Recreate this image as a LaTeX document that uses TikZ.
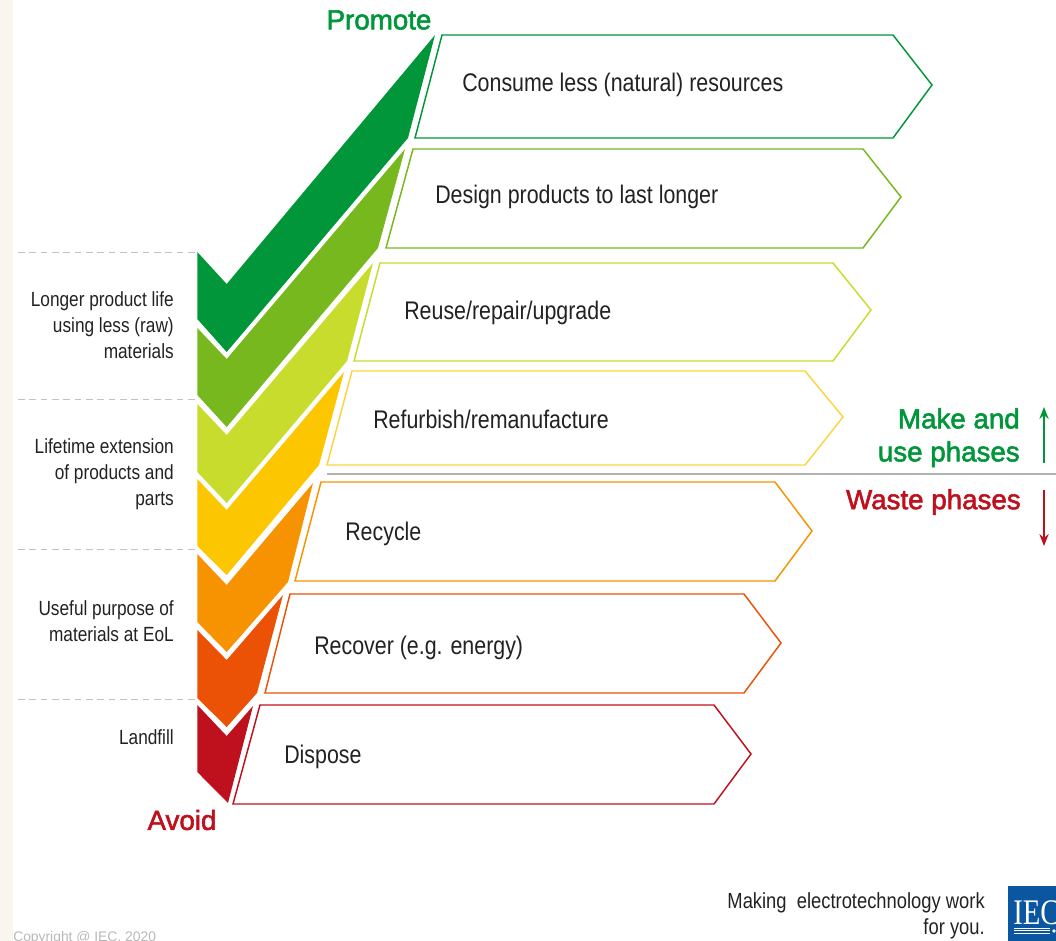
\documentclass[tikz,border=0pt]{standalone}
\usepackage{fontspec}
\setmainfont{Liberation Sans}
\newfontfamily\narrowfont[FakeStretch=0.84]{Liberation Sans}
\newfontfamily\headfont[FakeBold=2]{Liberation Sans}
\newfontfamily\logofont[FakeStretch=0.8]{Liberation Serif}
\usetikzlibrary{arrows.meta}
\definecolor{cDkGreen}{HTML}{009639}
\definecolor{cGreen}{HTML}{76B81D}
\definecolor{cLime}{HTML}{C8DC2D}
\definecolor{cAmber}{HTML}{FCC600}
\definecolor{cOrange}{HTML}{F79300}
\definecolor{cRedOrange}{HTML}{EC5205}
\definecolor{cRed}{HTML}{BE111D}
\definecolor{cStrip}{HTML}{F9F6EE}
\definecolor{cBlue}{HTML}{0B56A0}
\definecolor{cText}{HTML}{222222}
\tikzset{
  x=0.75pt,y=-0.75pt,
  stepbar/.style={draw=#1,line width=1.1pt,line join=miter,fill=white},
  chev/.style={fill=#1,draw=none},
  steplabel/.style={anchor=base west,inner sep=0pt,text=cText,font=\narrowfont\fontsize{19.1}{23}\selectfont},
  sidelabel/.style={anchor=north east,inner sep=0pt,align=right,text=cText,font=\narrowfont\fontsize{15.4}{19.5}\selectfont},
  sep/.style={draw=black!24,line width=0.7pt,dash pattern=on 5pt off 3.5pt},
  heading/.style={inner sep=0pt,text=#1,font=\headfont\fontsize{20.8}{24.75}\selectfont},
  phase/.style={draw=#1,line width=1pt,-{Stealth[length=9pt,width=7pt]}},
}
\begin{document}
\begin{tikzpicture}
\useasboundingbox (0,0) rectangle (1056,941);
\clip (0,0) rectangle (1056,941);
\fill[cStrip] (0,0) rectangle (13,941);
% dashed separators
\foreach \yy in {252,399,549,699}{\draw[sep] (18,\yy) -- (197,\yy);}
% chevrons
\fill[chev=cDkGreen] (197.3,252) -- (226.7,284) -- (435,35) -- (408,138) -- (226.7,352) -- (197.3,319) -- cycle;
\fill[chev=cGreen] (197.3,328) -- (226.7,359) -- (405,149) -- (378,248) -- (226.7,427) -- (197.3,395) -- cycle;
\fill[chev=cLime] (197.3,404) -- (226.7,435) -- (373,263) -- (347,361) -- (226.7,503) -- (197.3,472) -- cycle;
\fill[chev=cAmber] (197.3,479) -- (226.7,510) -- (344,372) -- (319,465) -- (226.7,575) -- (197.3,546) -- cycle;
\fill[chev=cOrange] (197.3,554) -- (226.7,585) -- (313,483) -- (288,582) -- (226.7,652) -- (197.3,622) -- cycle;
\fill[chev=cRedOrange] (197.3,630) -- (226.7,660) -- (283,595) -- (257,693) -- (226.7,727) -- (197.3,698) -- cycle;
\fill[chev=cRed] (197.3,705) -- (226.7,736) -- (253,706) -- (228,803) -- (197.3,772) -- cycle;
% step bars
\draw[stepbar=cDkGreen] (442,35) -- (893,35) -- (932,85) -- (893,138) -- (415,138) -- cycle;
\draw[stepbar=cGreen] (413,149) -- (863,149) -- (901,197) -- (863,248) -- (386,248) -- cycle;
\draw[stepbar=cLime] (380,263) -- (833,263) -- (871,310) -- (833,361) -- (354,361) -- cycle;
\draw[stepbar=cAmber!75!white] (352,371) -- (805,371) -- (843,417) -- (805,465) -- (327,465) -- cycle;
\draw[stepbar=cOrange] (321,482) -- (775,482) -- (812,531) -- (775,581) -- (295,581) -- cycle;
\draw[stepbar=cRedOrange] (290,594) -- (744,594) -- (781,643) -- (744,693) -- (265,693) -- cycle;
\draw[stepbar=cRed] (260,705) -- (714,705) -- (751,754) -- (714,804) -- (233,804) -- cycle;
% step labels
\node[steplabel] (s1) at (462,92) {Consume less (natural) resources};
\node[steplabel] (s2) at (435,204) {Design products to last longer};
\node[steplabel] (s3) at (404,320) {Reuse/repair/upgrade};
\node[steplabel] (s4) at (373,428) {Refurbish/remanufacture};
\node[steplabel] (s5) at (345,540) {Recycle};
\node[steplabel] (s6) at (314,654.5) {Recover (e.g. energy)};
\node[steplabel] (s7) at (284,763.5) {Dispose};
% side labels
\node[sidelabel] (l1) at (174,291) {Longer product life\\using less (raw)\\materials};
\node[sidelabel] (l2) at (174,438) {Lifetime extension\\of products and\\parts};
\node[sidelabel] (l3) at (174,600) {Useful purpose of\\materials at EoL};
\node[sidelabel] (l4) at (174,729) {Landfill};
% headings
\node[heading=cDkGreen] (promote) at (379,20) {Promote};
\node[heading=cRed] (avoid) at (182,820) {Avoid};
\node[heading=cDkGreen,anchor=north east,align=right] (make) at (1020,408) {Make and\\use phases};
\node[heading=cRed,anchor=east] (waste) at (1021,502) {Waste phases};
% phase divider and arrows
\draw[draw=black!30,line width=1pt] (327,474) -- (1056,474);
\coordinate (upS) at (1044,463); \coordinate (upE) at (1044,407);
\coordinate (dnS) at (1044,490); \coordinate (dnE) at (1044,546);
\draw[phase=cDkGreen] (upS) -- (upE);
\draw[phase=cRed] (dnS) -- (dnE);
% footer
\node[anchor=north east,inner sep=0pt,align=right,text=cText,font=\narrowfont\fontsize{16.4}{19.5}\selectfont] (slogan) at (985,892) {Making\ \ electrotechnology work\\for you.};
\node[anchor=base west,inner sep=0pt,text=black!28,font=\fontsize{10.4}{12}\selectfont] (copy) at (13,941) {Copyright @ IEC, 2020};
% logo
\fill[cBlue] (1008,886) rectangle (1056,941);
\node[anchor=base west,inner sep=0pt,text=white,font=\logofont\fontsize{27}{27}\selectfont] (iec) at (1013,924) {IEC};
\foreach \yy in {928,930.5,933}{\draw[white,line width=0.6pt] (1014,\yy) -- (1050,\yy);}
\fill[white] (1054,931) circle (1.8);
\end{tikzpicture}
\end{document}
